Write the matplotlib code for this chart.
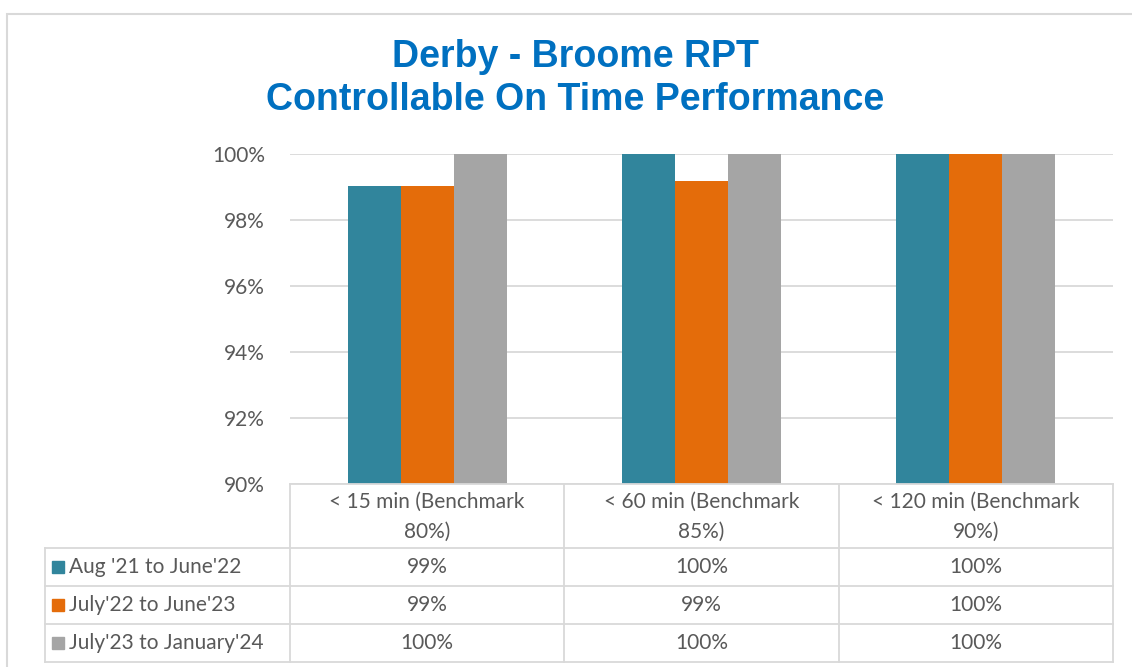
import matplotlib
matplotlib.use("Agg")
import matplotlib.pyplot as plt
from matplotlib.patches import Rectangle

# data
categories = ["< 15 min (Benchmark\n80%)", "< 60 min (Benchmark\n85%)", "< 120 min (Benchmark\n90%)"]
series_names = ["Aug '21 to June'22", "July'22 to June'23", "July'23 to January'24"]
series_values = [
    [99.03, 100.0, 100.0],
    [99.03, 99.18, 100.0],
    [100.0, 100.0, 100.0],
]
series_colors = ["#31859C", "#E46C0A", "#A5A5A5"]
yticks = [90, 92, 94, 96, 98, 100]

W, H = 1132, 667
grid_color = "#D9D9D9"
text_color = "#595959"
font = "Lato"
fs = 15


def fx(px):
    return px / W


def fy(py):
    return 1 - py / H


fig = plt.figure(figsize=(W / 100, H / 100), dpi=100)

# outer chart border
fig.patches.append(Rectangle((fx(7), fy(700)), fx(1160) - fx(7), fy(14) - fy(700),
                             transform=fig.transFigure, fill=False,
                             edgecolor=grid_color, linewidth=1.5))

fig.text(fx(575), fy(57), "Derby - Broome RPT", ha="center", va="center",
         fontsize=27, fontweight="bold", color="#0070C0", family="Liberation Sans")
fig.text(fx(575), fy(100), "Controllable On Time Performance", ha="center", va="center",
         fontsize=27, fontweight="bold", color="#0070C0", family="Liberation Sans")

# bar area
ax = fig.add_axes([fx(290), fy(484), fx(1113) - fx(290), fy(154) - fy(484)])
n = len(series_names)
bar_w = 0.193
for i, (name, vals, col) in enumerate(zip(series_names, series_values, series_colors)):
    xs = [k + (i - (n - 1) / 2) * bar_w for k in range(len(categories))]
    ax.bar(xs, vals, width=bar_w, color=col, zorder=3)

ax.set_xlim(-0.5, len(categories) - 0.5)
ax.set_ylim(90, 100)
ax.set_yticks(yticks)
ax.set_yticklabels([f"{t}%" for t in yticks], family=font, fontsize=fs, color=text_color)
ax.set_xticks([])
ax.tick_params(axis="y", length=0, pad=18)
ax.grid(axis="y", color=grid_color, linewidth=1.3, zorder=0)
for s in ax.spines.values():
    s.set_visible(False)

# data table below
tax = fig.add_axes([fx(45), fy(662), fx(1113) - fx(45), fy(484) - fy(662)])
left_col = (290 - 45) / ((1113 - 290) / 3)
tax.set_xlim(-0.5 - left_col, len(categories) - 0.5)
tax.set_ylim(178, 0)
tax.axis("off")
x0 = -0.5 - left_col
xend = len(categories) - 0.5
row_tops = [0, 64, 102, 140, 178]
lw = 1.3
# horizontal lines
tax.plot([-0.5, xend], [0, 0], color=grid_color, lw=lw, clip_on=False)
for y in row_tops[1:]:
    tax.plot([x0, xend], [y, y], color=grid_color, lw=lw, clip_on=False)
# vertical lines
for k in range(len(categories) + 1):
    tax.plot([k - 0.5, k - 0.5], [0, 178], color=grid_color, lw=lw, clip_on=False)
tax.plot([x0, x0], [64, 178], color=grid_color, lw=lw, clip_on=False)

for k, cat in enumerate(categories):
    tax.text(k, 33, cat, ha="center", va="center", fontsize=fs, color=text_color,
             family=font, linespacing=1.65)

for i, (name, vals, col) in enumerate(zip(series_names, series_values, series_colors)):
    yc = (row_tops[i + 1] + row_tops[i + 2]) / 2
    tax.add_patch(Rectangle((x0 + 0.027, yc - 6), 0.043, 12, color=col, clip_on=False))
    tax.text(x0 + 0.087, yc, name, ha="left", va="center", fontsize=fs,
             color=text_color, family=font)
    for k, v in enumerate(vals):
        tax.text(k, yc, f"{round(v)}%", ha="center", va="center", fontsize=fs,
                 color=text_color, family=font)

fig.savefig("out.png", dpi=100)
